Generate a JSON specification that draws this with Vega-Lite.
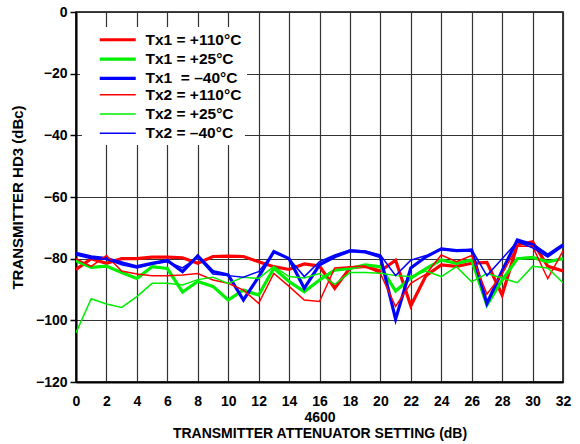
{
  "$schema": "https://vega.github.io/schema/vega-lite/v6.json",
  "width": 487,
  "height": 370,
  "autosize": "none",
  "padding": {"left": 76, "top": 12, "right": 17, "bottom": 62},
  "background": "white",
  "config": {
    "font": "Liberation Sans",
    "view": {"stroke": "#000", "strokeWidth": 1.5},
    "axis": {
      "labelFont": "Liberation Sans", "labelFontWeight": "bold", "labelFontSize": 14, "labelColor": "#000",
      "titleFont": "Liberation Sans", "titleFontWeight": "bold", "titleFontSize": 14, "titleColor": "#000",
      "gridColor": "#333", "gridWidth": 1.2, "gridOpacity": 1,
      "domainColor": "#000", "domainWidth": 2, "tickColor": "#000", "tickWidth": 1.5
    },
    "legend": {
      "labelFont": "Liberation Sans", "labelFontWeight": "bold", "labelFontSize": 15.5, "labelColor": "#000"
    }
  },
  "data": {"values": [
    {"x":0,"s":"A","v":-83.5},{"x":1,"s":"A","v":-80},{"x":2,"s":"A","v":-81.5},{"x":3,"s":"A","v":-80},{"x":4,"s":"A","v":-80},{"x":5,"s":"A","v":-79.5},{"x":6,"s":"A","v":-79.5},{"x":7,"s":"A","v":-79.7},{"x":8,"s":"A","v":-81.5},{"x":9,"s":"A","v":-79.3},{"x":10,"s":"A","v":-79.2},{"x":11,"s":"A","v":-79.3},{"x":12,"s":"A","v":-81},{"x":13,"s":"A","v":-82.6},{"x":14,"s":"A","v":-83.5},{"x":15,"s":"A","v":-81.7},{"x":16,"s":"A","v":-82.4},{"x":17,"s":"A","v":-89.6},{"x":18,"s":"A","v":-83},{"x":19,"s":"A","v":-82.5},{"x":20,"s":"A","v":-84},{"x":21,"s":"A","v":-80.5},{"x":22,"s":"A","v":-95.3},{"x":23,"s":"A","v":-85.5},{"x":24,"s":"A","v":-82},{"x":25,"s":"A","v":-82.5},{"x":26,"s":"A","v":-81.5},{"x":27,"s":"A","v":-81.2},{"x":28,"s":"A","v":-91.8},{"x":29,"s":"A","v":-75.5},{"x":30,"s":"A","v":-74.5},{"x":31,"s":"A","v":-82.5},{"x":32,"s":"A","v":-84},
    {"x":0,"s":"B","v":-80.7},{"x":1,"s":"B","v":-82.8},{"x":2,"s":"B","v":-82.4},{"x":3,"s":"B","v":-84.5},{"x":4,"s":"B","v":-86.4},{"x":5,"s":"B","v":-82.6},{"x":6,"s":"B","v":-83.2},{"x":7,"s":"B","v":-90.8},{"x":8,"s":"B","v":-87.4},{"x":9,"s":"B","v":-89},{"x":10,"s":"B","v":-93.4},{"x":11,"s":"B","v":-90.2},{"x":12,"s":"B","v":-91.8},{"x":13,"s":"B","v":-83.1},{"x":14,"s":"B","v":-87.4},{"x":15,"s":"B","v":-90.7},{"x":16,"s":"B","v":-86.9},{"x":17,"s":"B","v":-83.7},{"x":18,"s":"B","v":-83.2},{"x":19,"s":"B","v":-82},{"x":20,"s":"B","v":-82.6},{"x":21,"s":"B","v":-90.5},{"x":22,"s":"B","v":-86.3},{"x":23,"s":"B","v":-83.2},{"x":24,"s":"B","v":-80.4},{"x":25,"s":"B","v":-81.5},{"x":26,"s":"B","v":-80.4},{"x":27,"s":"B","v":-95},{"x":28,"s":"B","v":-87},{"x":29,"s":"B","v":-80},{"x":30,"s":"B","v":-79.6},{"x":31,"s":"B","v":-81},{"x":32,"s":"B","v":-80},
    {"x":0,"s":"C","v":-78.3},{"x":1,"s":"C","v":-79.4},{"x":2,"s":"C","v":-80},{"x":3,"s":"C","v":-81.3},{"x":4,"s":"C","v":-82.6},{"x":5,"s":"C","v":-81.5},{"x":6,"s":"C","v":-80.6},{"x":7,"s":"C","v":-84.2},{"x":8,"s":"C","v":-79.1},{"x":9,"s":"C","v":-84.2},{"x":10,"s":"C","v":-85.3},{"x":11,"s":"C","v":-93.4},{"x":12,"s":"C","v":-85.9},{"x":13,"s":"C","v":-77.7},{"x":14,"s":"C","v":-80},{"x":15,"s":"C","v":-89.6},{"x":16,"s":"C","v":-82},{"x":17,"s":"C","v":-79.4},{"x":18,"s":"C","v":-77.5},{"x":19,"s":"C","v":-77.8},{"x":20,"s":"C","v":-79.4},{"x":21,"s":"C","v":-99.6},{"x":22,"s":"C","v":-83},{"x":23,"s":"C","v":-79.4},{"x":24,"s":"C","v":-76.8},{"x":25,"s":"C","v":-77.4},{"x":26,"s":"C","v":-77.2},{"x":27,"s":"C","v":-94.5},{"x":28,"s":"C","v":-84},{"x":29,"s":"C","v":-73.9},{"x":30,"s":"C","v":-75.5},{"x":31,"s":"C","v":-78.8},{"x":32,"s":"C","v":-75.5},
    {"x":0,"s":"D","v":-80},{"x":1,"s":"D","v":-82.5},{"x":2,"s":"D","v":-79},{"x":3,"s":"D","v":-84},{"x":4,"s":"D","v":-85},{"x":5,"s":"D","v":-85.5},{"x":6,"s":"D","v":-85.5},{"x":7,"s":"D","v":-85.3},{"x":8,"s":"D","v":-84.8},{"x":9,"s":"D","v":-86.9},{"x":10,"s":"D","v":-88},{"x":11,"s":"D","v":-90.2},{"x":12,"s":"D","v":-94.5},{"x":13,"s":"D","v":-84.8},{"x":14,"s":"D","v":-89},{"x":15,"s":"D","v":-93.4},{"x":16,"s":"D","v":-93.9},{"x":17,"s":"D","v":-83},{"x":18,"s":"D","v":-82.6},{"x":19,"s":"D","v":-82.4},{"x":20,"s":"D","v":-84.8},{"x":21,"s":"D","v":-95.5},{"x":22,"s":"D","v":-88},{"x":23,"s":"D","v":-85},{"x":24,"s":"D","v":-78.8},{"x":25,"s":"D","v":-81},{"x":26,"s":"D","v":-79},{"x":27,"s":"D","v":-91.5},{"x":28,"s":"D","v":-85},{"x":29,"s":"D","v":-76},{"x":30,"s":"D","v":-76},{"x":31,"s":"D","v":-86.5},{"x":32,"s":"D","v":-77.5},
    {"x":0,"s":"E","v":-104},{"x":1,"s":"E","v":-93},{"x":2,"s":"E","v":-94.7},{"x":3,"s":"E","v":-95.8},{"x":4,"s":"E","v":-92.3},{"x":5,"s":"E","v":-88},{"x":6,"s":"E","v":-88},{"x":7,"s":"E","v":-88.5},{"x":8,"s":"E","v":-86.8},{"x":9,"s":"E","v":-86},{"x":10,"s":"E","v":-88},{"x":11,"s":"E","v":-86},{"x":12,"s":"E","v":-86.4},{"x":13,"s":"E","v":-82.5},{"x":14,"s":"E","v":-85.8},{"x":15,"s":"E","v":-86.3},{"x":16,"s":"E","v":-84.8},{"x":17,"s":"E","v":-88.3},{"x":18,"s":"E","v":-84.5},{"x":19,"s":"E","v":-84.5},{"x":20,"s":"E","v":-84.7},{"x":21,"s":"E","v":-85.5},{"x":22,"s":"E","v":-85.8},{"x":23,"s":"E","v":-84},{"x":24,"s":"E","v":-85.8},{"x":25,"s":"E","v":-82.6},{"x":26,"s":"E","v":-87.5},{"x":27,"s":"E","v":-84.8},{"x":28,"s":"E","v":-86.3},{"x":29,"s":"E","v":-87.8},{"x":30,"s":"E","v":-82.5},{"x":31,"s":"E","v":-83},{"x":32,"s":"E","v":-87.8},
    {"x":0,"s":"F","v":-78.8},{"x":1,"s":"F","v":-80},{"x":2,"s":"F","v":-80.2},{"x":3,"s":"F","v":-82},{"x":4,"s":"F","v":-83},{"x":5,"s":"F","v":-81.8},{"x":6,"s":"F","v":-81},{"x":7,"s":"F","v":-83},{"x":8,"s":"F","v":-79.5},{"x":9,"s":"F","v":-85},{"x":10,"s":"F","v":-85.5},{"x":11,"s":"F","v":-86},{"x":12,"s":"F","v":-84.2},{"x":13,"s":"F","v":-78},{"x":14,"s":"F","v":-80},{"x":15,"s":"F","v":-85.8},{"x":16,"s":"F","v":-81},{"x":17,"s":"F","v":-78.8},{"x":18,"s":"F","v":-77.2},{"x":19,"s":"F","v":-77.5},{"x":20,"s":"F","v":-78.8},{"x":21,"s":"F","v":-85.5},{"x":22,"s":"F","v":-80.5},{"x":23,"s":"F","v":-79},{"x":24,"s":"F","v":-77},{"x":25,"s":"F","v":-77.5},{"x":26,"s":"F","v":-77},{"x":27,"s":"F","v":-85.5},{"x":28,"s":"F","v":-80},{"x":29,"s":"F","v":-74.5},{"x":30,"s":"F","v":-76.5},{"x":31,"s":"F","v":-79.5},{"x":32,"s":"F","v":-76}
  ]},
  "transform": [
    {"lookup": "s", "from": {"data": {"values": [
      {"s":"A","label":"Tx1 = +110°C"},
      {"s":"B","label":"Tx1 = +25°C"},
      {"s":"C","label":"Tx1\u00a0 = –40°C"},
      {"s":"D","label":"Tx2 = +110°C"},
      {"s":"E","label":"Tx2 = +25°C"},
      {"s":"F","label":"Tx2 = –40°C"}
    ]}, "key": "s", "fields": ["label"]}}
  ],
  "encoding": {
    "x": {"field": "x", "type": "quantitative",
      "scale": {"domain": [0, 32], "nice": false},
      "axis": {"values": [0,2,4,6,8,10,12,14,16,18,20,22,24,26,28,30,32], "tickSize": 0, "labelPadding": 12,
        "title": ["4600", "TRANSMITTER ATTENUATOR SETTING (dB)"], "titlePadding": 2, "titleLineHeight": 16, "labelFlush": false}},
    "y": {"field": "v", "type": "quantitative",
      "scale": {"domain": [-120, 0], "nice": false},
      "axis": {"values": [-120,-100,-80,-60,-40,-20,0], "tickSize": 6, "labelPadding": 3,
        "title": "TRANSMITTER HD3 (dBc)", "titleFontSize": 15, "titlePadding": 10, "labelFlush": false}}
  },
  "layer": [
    {
      "transform": [{"filter": "datum.s == 'A' || datum.s == 'B' || datum.s == 'C'"}],
      "mark": {"type": "line", "strokeWidth": 3.2, "strokeJoin": "miter", "clip": true},
      "encoding": {
        "color": {"field": "label", "type": "nominal",
          "scale": {"domain": ["Tx1 = +110°C","Tx1 = +25°C","Tx1\u00a0 = –40°C"], "range": ["#ff0000","#00ee00","#0000ff"]},
          "legend": {"title": null, "orient": "none", "legendX": 4, "legendY": 15, "padding": 5,
            "fillColor": "white", "symbolType": "M-4,0H4", "symbolSize": 81, "symbolStrokeWidth": 3.2,
            "symbolOffset": 25, "labelOffset": 20, "rowPadding": 2.3}}
      }
    },
    {
      "transform": [{"filter": "datum.s == 'D' || datum.s == 'E' || datum.s == 'F'"}],
      "mark": {"type": "line", "strokeWidth": 1.5, "strokeJoin": "miter", "clip": true},
      "encoding": {
        "color": {"field": "label", "type": "nominal",
          "scale": {"domain": ["Tx2 = +110°C","Tx2 = +25°C","Tx2 = –40°C"], "range": ["#ff0000","#00ee00","#0000ff"]},
          "legend": {"title": null, "orient": "none", "legendX": 6, "legendY": 72, "padding": 3,
            "fillColor": "white", "symbolType": "M-4,0H4", "symbolSize": 81, "symbolStrokeWidth": 1.5,
            "symbolOffset": 25, "labelOffset": 20, "rowPadding": 2.3}}
      }
    }
  ],
  "resolve": {"scale": {"color": "independent"}, "legend": {"color": "independent"}}
}
